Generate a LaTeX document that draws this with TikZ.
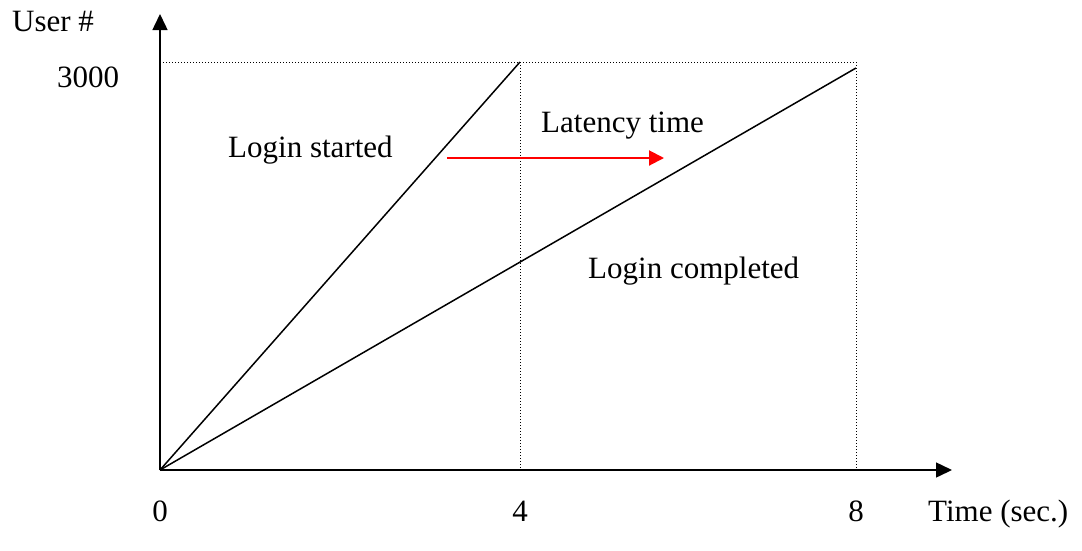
\documentclass[tikz,border=0pt]{standalone}
\usepackage{fontspec}
\setmainfont{Liberation Serif}
\usetikzlibrary{arrows.meta}
\begin{document}
\begin{tikzpicture}[x=1pt,y=-1pt,
  axis/.style={line width=1.5pt,-{Triangle[length=16pt,width=15pt]}},
  ramp/.style={line width=1.5pt},
  guide/.style={line width=1pt,dash pattern=on 1pt off 2pt},
  lag/.style={red,line width=2pt,-{Triangle[length=15pt,width=15pt]}},
  lbl/.style={inner sep=0pt,anchor=base west,font=\fontsize{31}{36}\selectfont},
  tick/.style={inner sep=0pt,anchor=base,font=\fontsize{31}{36}\selectfont}]
\useasboundingbox (0,0) rectangle (1082,550);
% key points
\coordinate (O) at (160,470);
\coordinate (ytop) at (160,14);
\coordinate (xend) at (952,470);
\coordinate (peak4) at (520,62);
\coordinate (peak8) at (856,68);
\coordinate (top8) at (856,62);
\coordinate (top0) at (160,62);
\coordinate (base4) at (520,470);
\coordinate (base8) at (856,470);
\coordinate (lagA) at (447,158);
\coordinate (lagB) at (664,158);
% guides
\draw[guide] (top0) -- (top8);
\draw[guide] (peak4) -- (base4);
\draw[guide] (top8) -- (base8);
% axes
\draw[axis] (O) -- (ytop);
\draw[axis] (O) -- (xend);
% ramps
\draw[ramp] (O) -- (peak4);
\draw[ramp] (O) -- (peak8);
% latency arrow
\draw[lag] (lagA) -- (lagB);
% labels
\node[lbl] (ulabel) at (12,31) {User \#};
\node[lbl] (n3000) at (57,87) {3000};
\node[lbl] (started) at (228,157) {Login started};
\node[lbl] (latency) at (541,132) {Latency time};
\node[lbl] (completed) at (588,278) {Login completed};
\node[tick] (t0) at (160,521) {0};
\node[tick] (t4) at (520,521) {4};
\node[tick] (t8) at (856,521) {8};
\node[lbl] (tlabel) at (928,521) {Time (sec.)};
\end{tikzpicture}
\end{document}
